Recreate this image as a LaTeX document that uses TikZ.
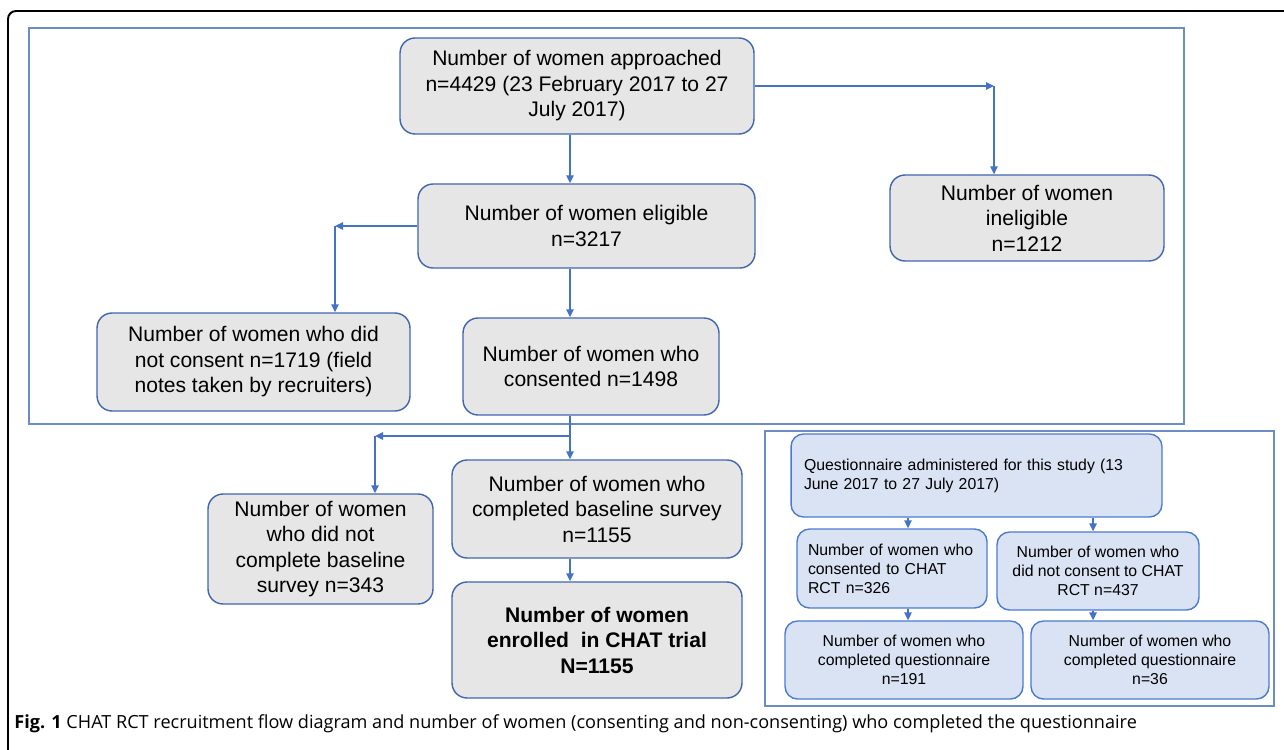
\documentclass[tikz,border=0pt]{standalone}
\usepackage{fontspec}
\setmainfont{Liberation Sans}
\newfontfamily\capfont{Open Sans}
\usepackage{tikz}
\usetikzlibrary{arrows.meta,positioning,calc}
\usepackage{xcolor}
\definecolor{boxgray}{HTML}{E6E6E6}
\definecolor{boxblue}{HTML}{4066B0}
\definecolor{frameblue}{HTML}{6C8CC4}
\definecolor{qfill}{HTML}{DAE3F3}
\definecolor{qblue}{HTML}{4A7BD0}
\definecolor{arrowblue}{HTML}{4472C4}
\newcommand{\mainsize}{\fontsize{12}{14.5}\selectfont}
\newcommand{\qsize}{\fontsize{9}{10.8}\selectfont}

\begin{document}
\begin{tikzpicture}[
  x=0.02cm, y=-0.02cm,
  >={Triangle[length=0.16cm,width=0.15cm]},
  box/.style={draw=boxblue, line width=0.8pt, fill=boxgray, rounded corners=0.3cm, align=center, inner sep=0pt, font=\mainsize},
  qbox/.style={draw=qblue, line width=0.8pt, fill=qfill, rounded corners=0.25cm, align=center, inner sep=0pt, font=\qsize},
  arr/.style={->, draw=arrowblue, fill=arrowblue, line width=0.8pt},
  frame/.style={draw=frameblue, line width=1.1pt}
]
\useasboundingbox (0,0) rectangle (1284,750);
\draw[black, line width=1.1pt, rounded corners=0.16cm] (8,760) -- (8,11) -- (1290,11);
\draw[frame] (29,28) rectangle (1184,424);
\draw[frame, line width=0.8pt] (765,431) rectangle (1274,706);

% recruitment flow
\node[box, minimum width=7.08cm, minimum height=1.92cm] (appr) at (577,86)
  {Number of women approached\\n=4429 (23 February 2017 to 27\\July 2017)};
\node[box, minimum width=6.74cm, minimum height=1.68cm] (elig) at (586.5,226)
  {Number of women eligible\\n=3217};
\node[box, minimum width=5.48cm, minimum height=1.72cm] (inel) at (1027,218)
  {Number of women\\ineligible\\n=1212};
\node[box, minimum width=6.26cm, minimum height=1.96cm] (nocons) at (253.5,362)
  {Number of women who did\\not consent n=1719 (field\\notes taken by recruiters)};
\node[box, minimum width=5.12cm, minimum height=1.94cm] (cons) at (591,366.5)
  {Number of women who\\consented n=1498};
\node[box, minimum width=4.50cm, minimum height=2.20cm] (nobase) at (320.5,549)
  {Number of women\\who did not\\complete baseline\\survey n=343};
\node[box, minimum width=5.80cm, minimum height=1.96cm] (base) at (597,509)
  {Number of women who\\completed baseline survey\\n=1155};
\node[box, minimum width=5.80cm, minimum height=2.32cm, font=\mainsize\bfseries] (enrol) at (597,640)
  {Number of women\\enrolled\ \ in CHAT trial\\N=1155};

% questionnaire
\node[qbox, align=left, text width=6.90cm, inner xsep=0.26cm, minimum height=1.66cm] (quest) at (976.5,475.5)
  {Questionnaire administered for this study (13\\June 2017 to 27 July 2017)};
\node[qbox, align=left, text width=3.36cm, inner xsep=0.22cm, minimum height=1.58cm] (qcons) at (892,568.5)
  {Number of women who\\consented to CHAT\\RCT n=326};
\node[qbox, minimum width=4.04cm, minimum height=1.56cm] (qnocons) at (1098,571)
  {Number of women who\\did not consent to CHAT\\RCT n=437};
\node[qbox, minimum width=4.76cm, minimum height=1.56cm] (q191) at (904,660)
  {Number of women who\\completed questionnaire\\n=191};
\node[qbox, minimum width=4.76cm, minimum height=1.56cm] (q36) at (1150,660)
  {Number of women who\\completed questionnaire\\n=36};

\coordinate (spine) at (570,0);
\coordinate (cA) at (994,86);
\coordinate (cB) at (335,226);
\coordinate (cC) at (375,436);
\coordinate (qL) at (908,0);
\coordinate (qR) at (1093,0);

\draw[arr] (appr.east) -- (cA);
\draw[arr] (cA) -- (inel.north -| cA);
\draw[arr] (appr.south -| spine) -- (elig.north -| spine);
\draw[arr] (elig.west) -- (cB);
\draw[arr] (cB) -- (nocons.north -| cB);
\draw[arr] (elig.south -| spine) -- (cons.north -| spine);
\draw[arr] (cons.south -| spine) -- (base.north -| spine);
\draw[arr] (spine |- cC) -- (cC);
\draw[arr] (cC) -- (nobase.north -| cC);
\draw[arr] (base.south -| spine) -- (enrol.north -| spine);

\draw[arr] (quest.south -| qL) -- (qcons.north -| qL);
\draw[arr] (quest.south -| qR) -- (qnocons.north -| qR);
\draw[arr] (qcons.south -| qL) -- (q191.north -| qL);
\draw[arr] (qnocons.south -| qR) -- (q36.north -| qR);

\node[anchor=west, inner sep=0pt, font=\capfont\fontsize{10.3}{12}\selectfont] (cap) at (14,724)
  {\textbf{Fig. 1} CHAT RCT recruitment flow diagram and number of women (consenting and non-consenting) who completed the questionnaire};
\end{tikzpicture}
\end{document}
